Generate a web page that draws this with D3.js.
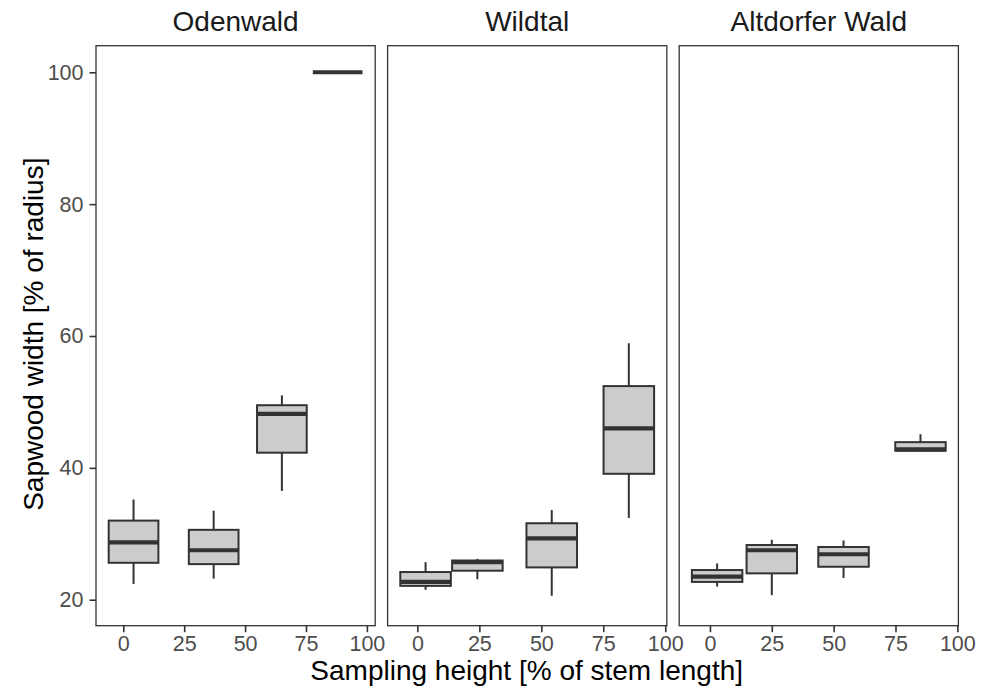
<!DOCTYPE html>
<html>
<head>
<meta charset="utf-8">
<script src="https://cdn.jsdelivr.net/npm/d3@7"></script>
<style>
  html, body { margin: 0; padding: 0; background: #fff; }
  svg { display: block; font-family: "Liberation Sans", Arial, Helvetica, sans-serif; }
</style>
</head>
<body>
<svg id="chart" width="992" height="691"></svg>
<script>
// Facet (forest site) names
const sites = ["Odenwald", "Wildtal", "Altdorfer Wald"];

// Mean sampling height of each box, % of stem length
const odenwaldHeights  = [4.2, 37.1, 65.1, 88.0];
const wildtalHeights   = [3.3, 24.2, 54.2, 85.3];
const altdorferHeights = [2.9, 25.0, 54.0, 85.1];

// Box statistics per box: [lower whisker, Q1, median, Q3, upper whisker]
const odenwaldStats = [
  [22.4, 25.6, 28.7, 32.0, 35.2],
  [23.2, 25.4, 27.5, 30.6, 33.5],
  [36.5, 42.3, 48.2, 49.5, 51.0],
  [100, 100, 100, 100, 100]
];
const wildtalStats = [
  [21.5, 22.1, 22.7, 24.2, 25.7],
  [23.1, 24.4, 25.7, 25.95, 26.2],
  [20.6, 24.9, 29.3, 31.6, 33.6],
  [32.4, 39.1, 46.0, 52.4, 58.9]
];
const altdorferStats = [
  [22.0, 22.7, 23.5, 24.5, 25.5],
  [20.7, 24.0, 27.5, 28.3, 29.1],
  [23.3, 25.0, 26.9, 28.0, 29.0],
  [42.6, 42.6, 42.8, 43.9, 45.1]
];

// Axis ticks
const xTicks = [0, 25, 50, 75, 100];
const yTicks = [20, 40, 60, 80, 100];

// Box width in data units
const boxWidth = 20.4;

const panels = [
  { name: sites[0], x: odenwaldHeights,  stats: odenwaldStats },
  { name: sites[1], x: wildtalHeights,   stats: wildtalStats },
  { name: sites[2], x: altdorferHeights, stats: altdorferStats }
];

// Layout
const panelTop = 45.7, panelBottom = 625.7;
const panelLeft = 96, panelW = 279.2, panelGap = 12.4;
const ink = "#333333", fill = "#CCCCCC";

const svg = d3.select("#chart");

// Shared y scale (5% expansion on both ends already included)
const y = d3.scaleLinear().domain([16.06, 104.03]).range([panelBottom, panelTop]);

panels.forEach((p, i) => {
  const x0 = panelLeft + i * (panelW + panelGap);
  // Free x scale per panel: extent of the boxes plus 5% on each side
  const lo = d3.min(p.x) - boxWidth / 2, hi = d3.max(p.x) + boxWidth / 2;
  const pad = (hi - lo) * 0.05;
  const x = d3.scaleLinear().domain([lo - pad, hi + pad]).range([x0, x0 + panelW]);

  const g = svg.append("g");

  // Boxes
  p.stats.forEach((s, j) => {
    const [wLo, q1, med, q3, wHi] = s;
    const cx = x(p.x[j]);
    const left = x(p.x[j] - boxWidth / 2), right = x(p.x[j] + boxWidth / 2);
    const bg = g.append("g");
    bg.append("line").attr("x1", cx).attr("x2", cx).attr("y1", y(wHi)).attr("y2", y(q3))
      .attr("stroke", ink).attr("stroke-width", 2);
    bg.append("line").attr("x1", cx).attr("x2", cx).attr("y1", y(q1)).attr("y2", y(wLo))
      .attr("stroke", ink).attr("stroke-width", 2);
    bg.append("rect").attr("x", left).attr("width", right - left)
      .attr("y", y(q3)).attr("height", Math.max(0, y(q1) - y(q3)))
      .attr("fill", fill).attr("stroke", ink).attr("stroke-width", 2);
    bg.append("line").attr("x1", left).attr("x2", right).attr("y1", y(med)).attr("y2", y(med))
      .attr("stroke", ink).attr("stroke-width", 4.2);
  });

  // Panel border
  g.append("rect").attr("x", x0).attr("y", panelTop)
    .attr("width", panelW).attr("height", panelBottom - panelTop)
    .attr("fill", "none").attr("stroke", ink).attr("stroke-width", 1.3);

  // Strip title
  svg.append("text").attr("x", x0 + panelW / 2).attr("y", 30.7)
    .attr("text-anchor", "middle").attr("font-size", 28).attr("fill", "#1A1A1A")
    .text(p.name);

  // Bottom axis
  const xAxis = d3.axisBottom(x).tickValues(xTicks).tickSize(6.5).tickPadding(4).tickFormat(d3.format("d"));
  const xa = svg.append("g").attr("transform", `translate(0,${panelBottom})`).call(xAxis);
  xa.select(".domain").remove();
  xa.selectAll(".tick line").attr("stroke", ink).attr("stroke-width", 1.6);
  xa.selectAll(".tick text").attr("font-size", 21.5).attr("fill", "#4D4D4D")
    .attr("font-family", "Liberation Sans, Arial, sans-serif").attr("dy", "0.71em");
});

// Left axis (first panel only)
const yAxis = d3.axisLeft(y).tickValues(yTicks).tickSize(6.5).tickPadding(6);
const ya = svg.append("g").attr("transform", `translate(${panelLeft},0)`).call(yAxis);
ya.select(".domain").remove();
ya.selectAll(".tick line").attr("stroke", ink).attr("stroke-width", 1.6);
ya.selectAll(".tick text").attr("font-size", 21.5).attr("fill", "#4D4D4D")
  .attr("font-family", "Liberation Sans, Arial, sans-serif");

// Axis titles
svg.append("text").attr("x", 526.7).attr("y", 680)
  .attr("text-anchor", "middle").attr("font-size", 28).attr("fill", "#000")
  .text("Sampling height [% of stem length]");
svg.append("text").attr("transform", "translate(43,334.2) rotate(-90)")
  .attr("text-anchor", "middle").attr("font-size", 28).attr("fill", "#000")
  .text("Sapwood width [% of radius]");
</script>
</body>
</html>
